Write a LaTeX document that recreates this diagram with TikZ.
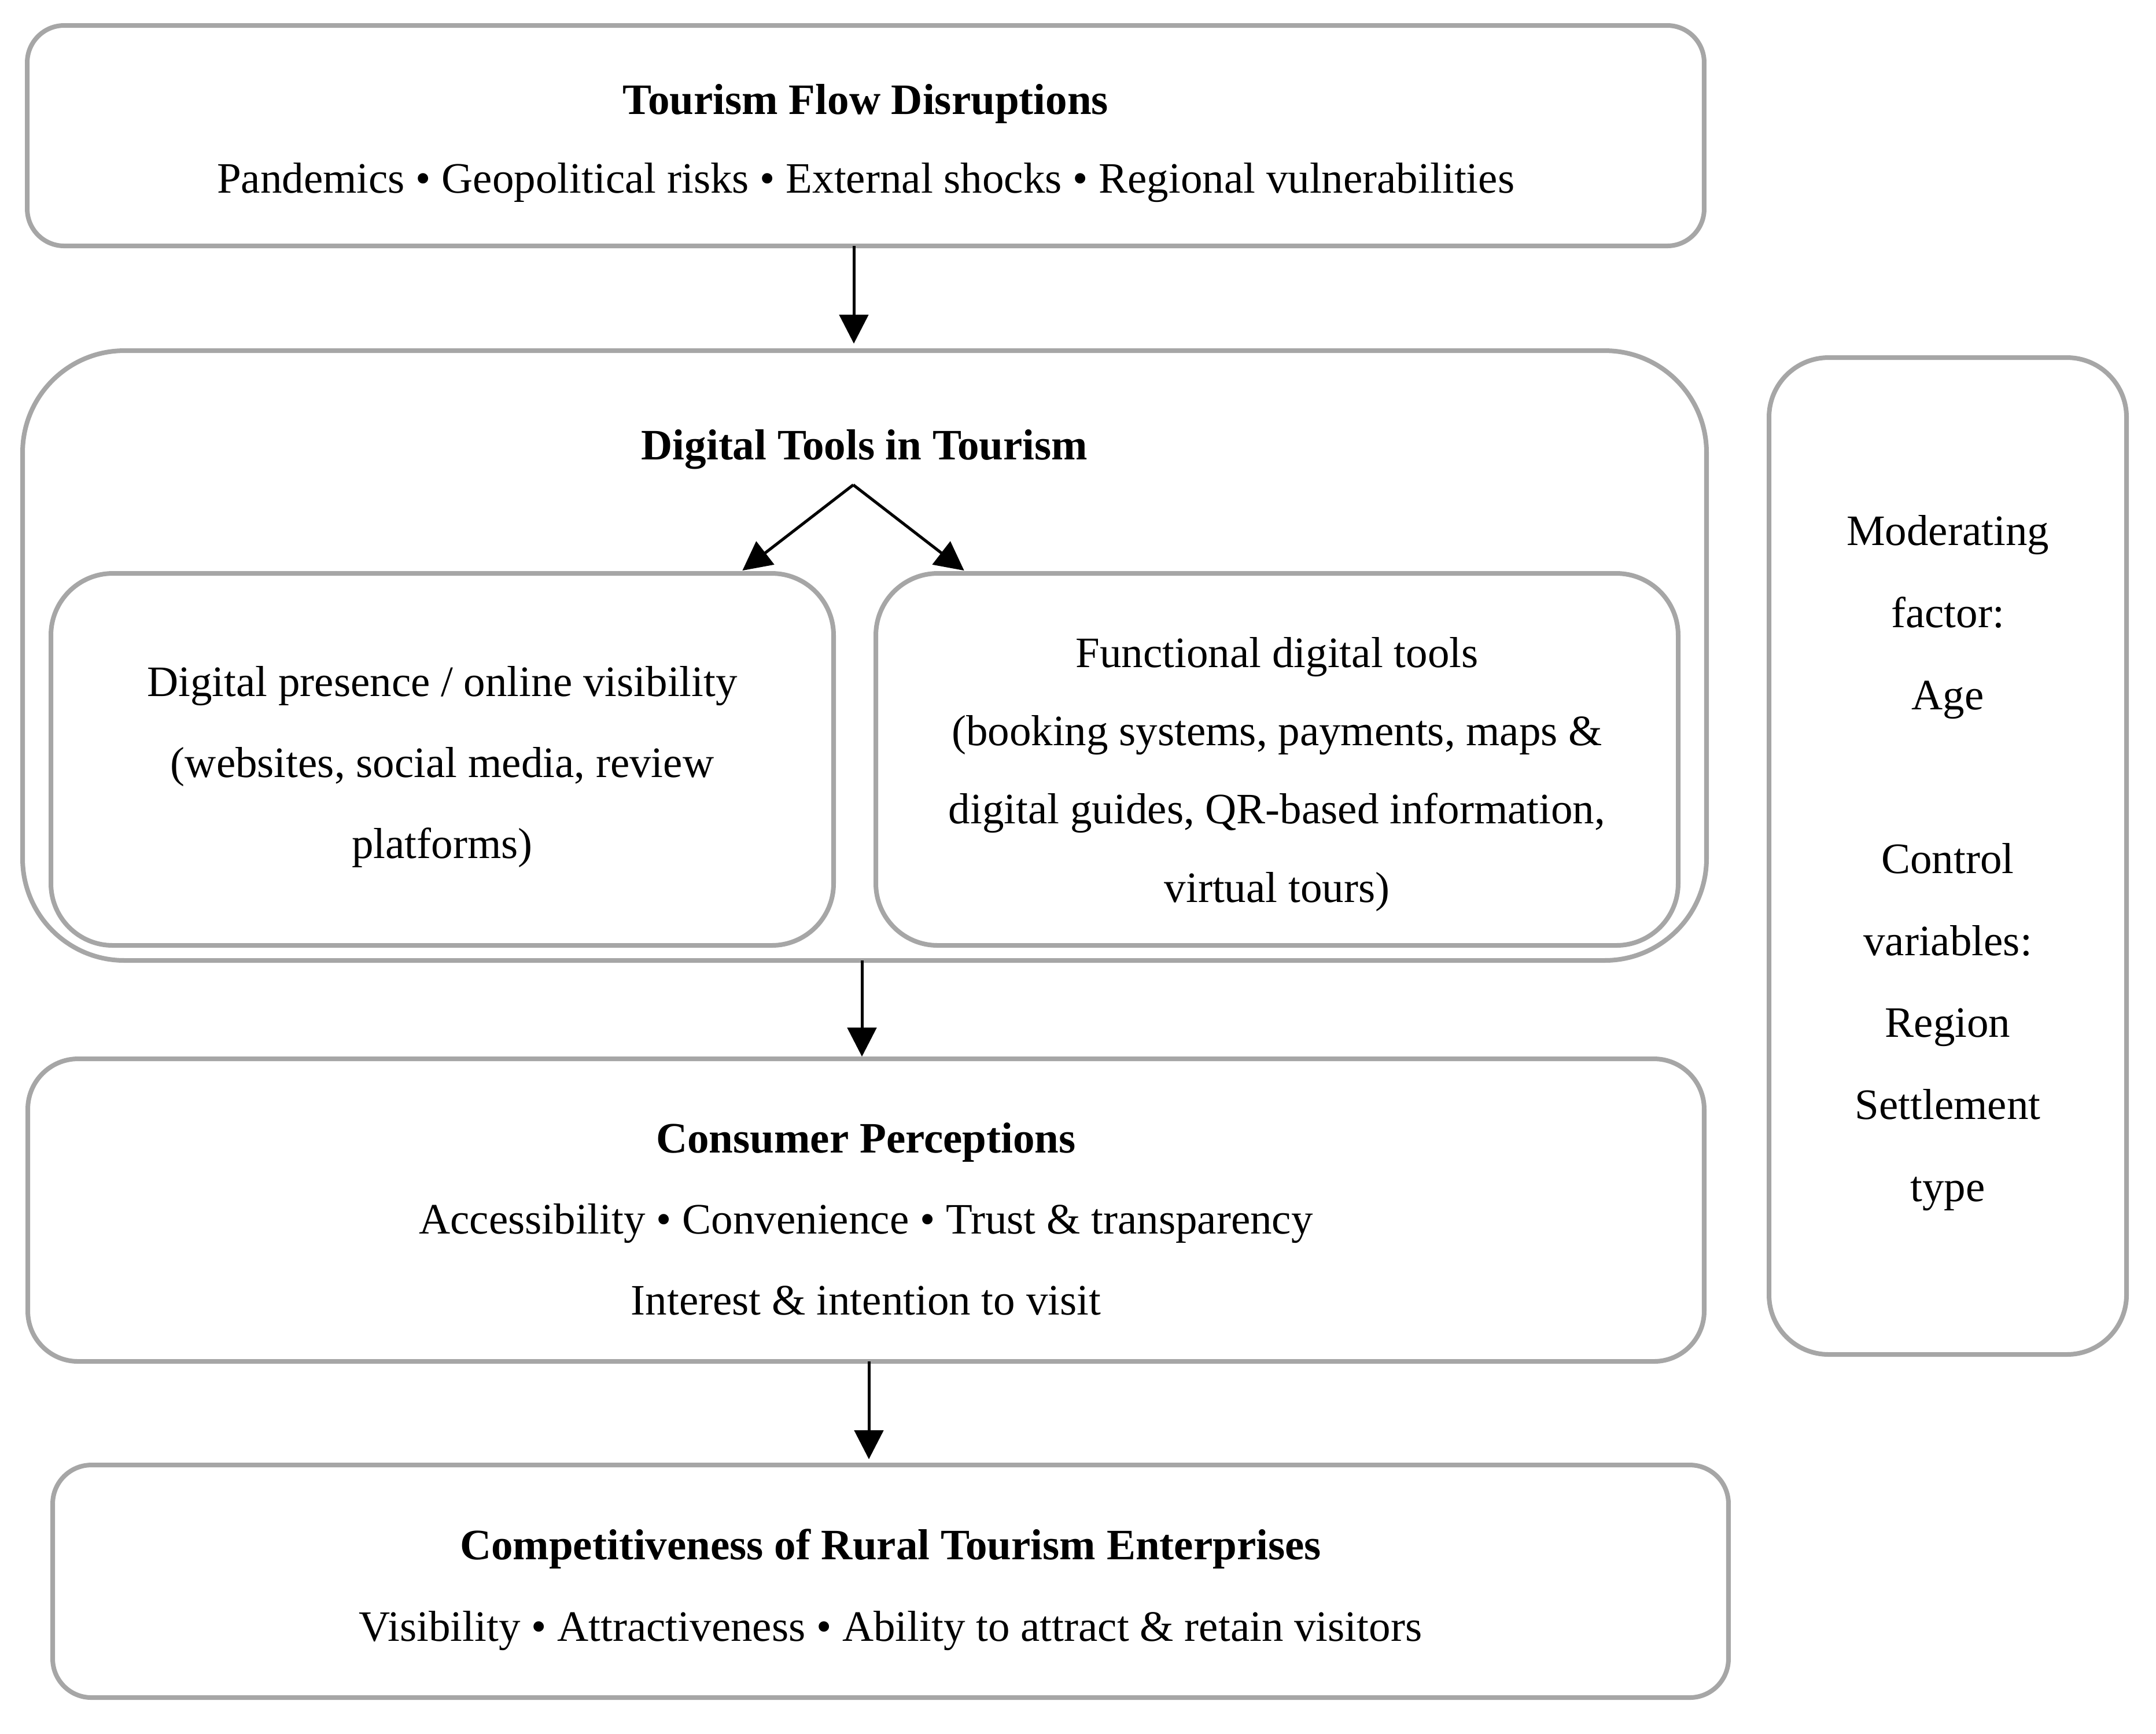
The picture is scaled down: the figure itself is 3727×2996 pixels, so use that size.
\documentclass[tikz,border=0pt]{standalone}
\usepackage{fontspec}
\setmainfont{Liberation Serif}
\usetikzlibrary{arrows.meta}
\definecolor{bordergray}{HTML}{A6A6A6}
\begin{document}
\begin{tikzpicture}[x=0.156pt,y=-0.156pt,
  box/.style={draw=bordergray, line width=1.25pt, outer sep=0pt, inner sep=0pt},
  txt/.style={align=center, anchor=base, inner sep=0pt},
  arr/.style={line width=0.78pt, -{Triangle[length=7.8pt,width=7.8pt]}},
]
\useasboundingbox (0,0) rectangle (3727,2996);

% boxes
\node[box, minimum width=452.24pt, minimum height=59.44pt, rounded corners=9.98pt] (b1) at (1496.5,234.5) {};
\node[box, minimum width=454.12pt, minimum height=164.42pt, rounded corners=27.46pt] (b2) at (1494.5,1133) {};
\node[box, minimum width=211.07pt, minimum height=100.31pt, rounded corners=16.69pt] (in1) at (764.5,1312.5) {};
\node[box, minimum width=216.37pt, minimum height=100.31pt, rounded corners=16.69pt] (in2) at (2207.5,1312.5) {};
\node[box, minimum width=452.09pt, minimum height=81.59pt, rounded corners=13.57pt] (b3) at (1497,2091.5) {};
\node[box, minimum width=451.93pt, minimum height=62.71pt, rounded corners=10.45pt] (b4) at (1539.5,2733) {};
\node[box, minimum width=96.41pt, minimum height=268.79pt, rounded corners=16.07pt] (rb) at (3367,1479.5) {};

% texts (anchor base = baseline of the last line)
\node[txt, font=\fontsize{11.7}{21.2}\selectfont] (t1) at (1496.5,333)
  {\textbf{Tourism Flow Disruptions}\\Pandemics • Geopolitical risks • External shocks • Regional vulnerabilities};
\node[txt, font=\fontsize{11.7}{21.2}\selectfont] (t2) at (1494.5,794)
  {\textbf{Digital Tools in Tourism}};
\node[txt, font=\fontsize{11.7}{21.8}\selectfont] (t3) at (764.5,1483)
  {Digital presence / online visibility\\(websites, social media, review\\platforms)};
\node[txt, font=\fontsize{11.7}{21.1}\selectfont] (t4) at (2207.5,1559)
  {Functional digital tools\\(booking systems, payments, maps \&\\digital guides, QR-based information,\\virtual tours)};
\node[txt, font=\fontsize{11.7}{21.8}\selectfont] (t5) at (1497,2272)
  {\textbf{Consumer Perceptions}\\Accessibility • Convenience • Trust \& transparency\\Interest \& intention to visit};
\node[txt, font=\fontsize{11.7}{22}\selectfont] (t6) at (1539.5,2836)
  {\textbf{Competitiveness of Rural Tourism Enterprises}\\Visibility • Attractiveness • Ability to attract \& retain visitors};
\node[txt, font=\fontsize{11.7}{22.1}\selectfont] (t7) at (3367,2076)
  {Moderating\\factor:\\Age\\\mbox{}\\Control\\variables:\\Region\\Settlement\\type};

% connectors
\coordinate (a1x) at (1476,0);
\coordinate (a2x) at (1490,0);
\coordinate (a3x) at (1502,0);
\coordinate (fork) at (1475,838);
\coordinate (ltx) at (1277,0);
\coordinate (rtx) at (1673,0);
\draw[arr, shorten >=1.9pt] (b1.south -| a1x) -- (b2.north -| a1x);
\draw[arr, shorten >=1.25pt] (fork) -- (in1.north -| ltx);
\draw[arr, shorten >=1.25pt] (fork) -- (in2.north -| rtx);
\draw[arr, shorten >=0.6pt] (b2.south -| a2x) -- (b3.north -| a2x);
\draw[arr, shorten >=1.56pt] (b3.south -| a3x) -- (b4.north -| a3x);
\end{tikzpicture}
\end{document}
